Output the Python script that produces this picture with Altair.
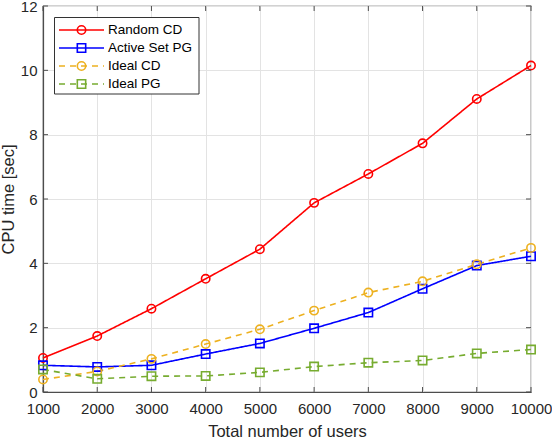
import altair as alt
import pandas as pd

# Number of users on the x axis
users = [1000, 2000, 3000, 4000, 5000, 6000, 7000, 8000, 9000, 10000]

# CPU time in seconds for each method
random_cd = [1.06, 1.74, 2.59, 3.52, 4.44, 5.88, 6.78, 7.73, 9.11, 10.15]
active_set_pg = [0.83, 0.78, 0.83, 1.18, 1.51, 1.98, 2.47, 3.21, 3.93, 4.22]
ideal_cd = [0.39, 0.64, 1.03, 1.49, 1.95, 2.53, 3.09, 3.44, 3.97, 4.48]
ideal_pg = [0.70, 0.41, 0.49, 0.50, 0.61, 0.79, 0.91, 0.98, 1.20, 1.32]

series_names = ["Random CD", "Active Set PG", "Ideal CD", "Ideal PG"]
series_colors = ["#FF0000", "#0000FF", "#EDB120", "#77AC30"]
series_shapes = ["circle", "square", "circle", "square"]
series_dashes = [[1, 0], [1, 0], [6, 5], [6, 5]]

cpu_ticks = [0, 2, 4, 6, 8, 10, 12]

W, H = 488, 386
FONT = "Liberation Sans"
AXIS_GRAY = "#4d4d4d"

rows = []
for name, vals in zip(series_names, [random_cd, active_set_pg, ideal_cd, ideal_pg]):
    for u, v in zip(users, vals):
        rows.append({"users": u, "cpu": v, "series": name})
df = pd.DataFrame(rows)

color = alt.Color("series:N", scale=alt.Scale(domain=series_names, range=series_colors), legend=None)
shape = alt.Shape("series:N", scale=alt.Scale(domain=series_names, range=series_shapes), legend=None)
dash = alt.StrokeDash("series:N", scale=alt.Scale(domain=series_names, range=series_dashes), legend=None)

x_enc = alt.X(
    "users:Q",
    scale=alt.Scale(domain=[1000, 10000], nice=False),
    axis=alt.Axis(values=users, format="d", title="Total number of users",
                  labelFlush=False, labelOverlap=False),
)
y_enc = alt.Y(
    "cpu:Q",
    scale=alt.Scale(domain=[0, 12], nice=False),
    axis=alt.Axis(values=cpu_ticks, title="CPU time [sec]",
                  labelFlush=False, labelOverlap=False),
)

lines = alt.Chart(df).mark_line(strokeWidth=1.6).encode(
    x=x_enc, y=y_enc, color=color, strokeDash=dash, detail="series:N"
)
points = alt.Chart(df).mark_point(filled=False, size=70, strokeWidth=1.6, opacity=1).encode(
    x="users:Q", y="cpu:Q", color=color, shape=shape
)

# Inward tick marks on all four sides of the box
xt = pd.DataFrame({"users": users})
yt = pd.DataFrame({"cpu": cpu_ticks})
tick_bottom = alt.Chart(xt).mark_rule(color=AXIS_GRAY).encode(
    x="users:Q", y=alt.value(H), y2=alt.value(H - 5))
tick_top = alt.Chart(xt).mark_rule(color=AXIS_GRAY).encode(
    x="users:Q", y=alt.value(0), y2=alt.value(5))
tick_left = alt.Chart(yt).mark_rule(color=AXIS_GRAY).encode(
    y="cpu:Q", x=alt.value(0), x2=alt.value(5))
tick_right = alt.Chart(yt).mark_rule(color=AXIS_GRAY).encode(
    y="cpu:Q", x=alt.value(W), x2=alt.value(W - 5))

main = alt.layer(lines, points, tick_bottom, tick_top, tick_left, tick_right)

# Boxed legend in the upper-left corner
leg_df = pd.DataFrame({"series": series_names})
leg_y = alt.Y("series:N", scale=alt.Scale(type="point", domain=series_names, range=[24, 78], padding=0), axis=None)

leg_box = alt.Chart(pd.DataFrame({"k": [0]})).mark_rect(
    fill="white", stroke="#333333", strokeWidth=1
).encode(x=alt.value(11.5), x2=alt.value(156), y=alt.value(11.5), y2=alt.value(88))
leg_lines = alt.Chart(leg_df).mark_rule(strokeWidth=1.6).encode(
    x=alt.value(16), x2=alt.value(61), y=leg_y, color=color, strokeDash=dash)
leg_pts = alt.Chart(leg_df).mark_point(filled=False, size=70, strokeWidth=1.6, opacity=1).encode(
    x=alt.value(38.5), y=leg_y, color=color, shape=shape)
leg_text = alt.Chart(leg_df).mark_text(
    align="left", baseline="middle", font=FONT, fontSize=13.5, color="#000000"
).encode(x=alt.value(65), y=leg_y, text="series:N")

legend = alt.layer(leg_box, leg_lines, leg_pts, leg_text)

chart = (
    alt.layer(main, legend)
    .resolve_scale(y="independent")
    .properties(
        width=W,
        height=H,
        autosize=alt.AutoSizeParams(type="none"),
        padding={"left": 43, "top": 6, "right": 21, "bottom": 48},
    )
    .configure_view(stroke=AXIS_GRAY, strokeWidth=1.2)
    .configure_axis(
        grid=True,
        gridColor="#e3e3e3",
        gridWidth=1,
        ticks=False,
        domainColor=AXIS_GRAY,
        domainWidth=1.2,
        labelFont=FONT,
        labelFontSize=15,
        labelColor="#262626",
        titleFont=FONT,
        titleFontSize=16.5,
        titleFontWeight="normal",
        titleColor="#262626",
    )
    .configure_axisX(labelPadding=9, titlePadding=7)
    .configure_axisY(labelPadding=6, titlePadding=4)
)

chart.save("out.html", embed_options={"renderer": "svg", "actions": False})
